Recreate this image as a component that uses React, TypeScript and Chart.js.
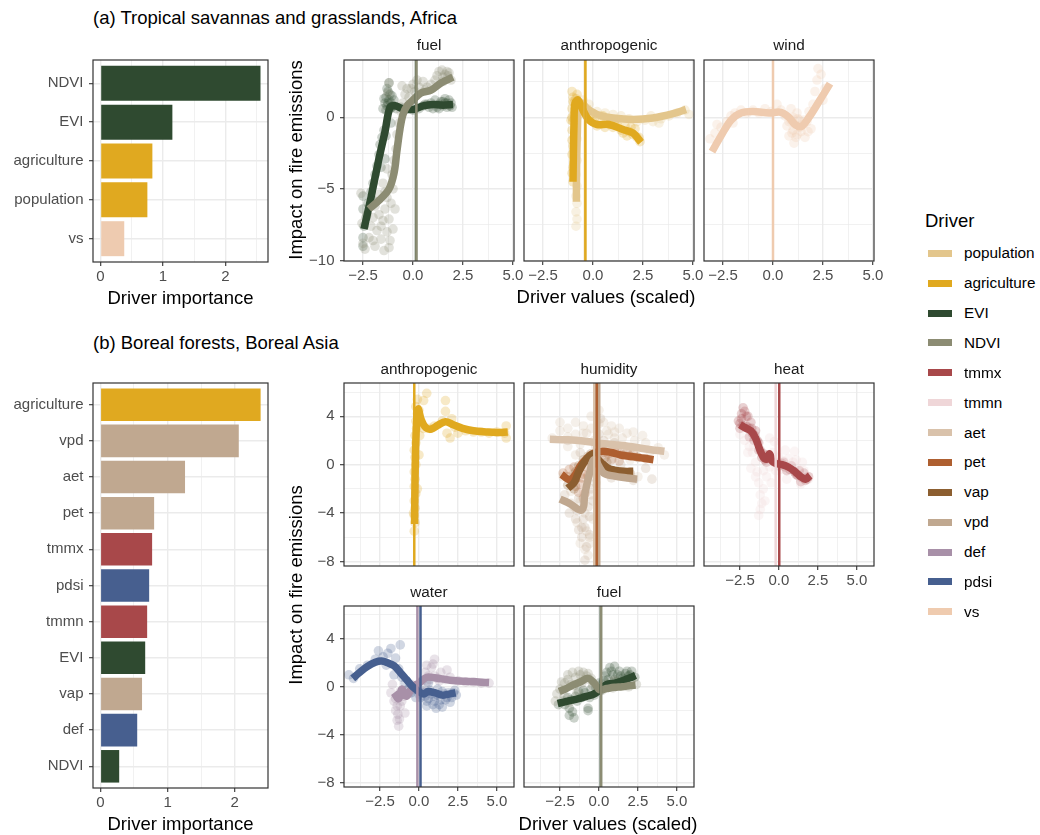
import React, { useEffect, useRef } from "react";
import { Chart, registerables } from "chart.js";

Chart.register(...registerables);

const FONT = '"Liberation Sans", Arial, Helvetica, sans-serif';

// ================= DATA =================
// Drivers in legend order
const driverNames = ["population", "agriculture", "EVI", "NDVI", "tmmx", "tmmn", "aet", "pet", "vap", "vpd", "def", "pdsi", "vs"];

// (a) Driver importance
const aImpLabels = ["NDVI", "EVI", "agriculture", "population", "vs"];
const aImpValues = [2.56, 1.15, 0.83, 0.75, 0.38];
const aImpGroups = ["fuel", "fuel", "anthropogenic", "anthropogenic", "wind"];

// (b) Driver importance
const bImpLabels = ["agriculture", "vpd", "aet", "pet", "tmmx", "pdsi", "tmmn", "EVI", "vap", "def", "NDVI"];
const bImpValues = [2.385, 2.06, 1.26, 0.8, 0.77, 0.726, 0.696, 0.667, 0.62, 0.548, 0.28];
const bImpGroups = ["anthropogenic", "humidity", "humidity", "humidity", "heat", "water", "heat", "fuel", "humidity", "water", "fuel"];

// tick values
const impMajor = [0, 1, 2];
const impMinor = [0.5, 1.5, 2.5];
const aFacetXMajor = [-2.5, 0, 2.5, 5];
const aFacetXMinor = [-1.25, 1.25, 3.75];
const aFacetYMajor = [-10, -5, 0];
const aFacetYMinor = [-7.5, -2.5, 2.5];
const bFacetXMajor = [-2.5, 0, 2.5, 5];
const bFacetXMinor = [-3.75, -1.25, 1.25, 3.75];
const bFacetYMajor = [-8, -4, 0, 4];
const bFacetYMinor = [-6, -2, 2, 6];

// axis limits
const aImpRange = [-0.12, 2.68];
const bImpRange = [-0.11, 2.495];
const aFacetXRange = [-3.45, 5.05];
const aFacetYRange = [-10.03, 4.0];
const bFacetXRange = [-4.81, 6.1];
const bFacetYRange = [-8.38, 6.75];

// ---- (a) fuel ----  [x, y, x, y, ...]
const aFuelEVIPts = [-2.5, -5.5, -2.5, -6.4, -2.5, -8.4, -2.5, -9.0, -2.45, -7.6, -2.35, -7.0, -2.25, -6.0, -2.1, -5.2, -2.0, -4.6, -1.9, -4.0, -1.8, -3.4, -1.7, -2.6, -1.65, -1.9, -1.55, -1.4, -1.45, -0.9, -1.4, -2.9, -1.35, -1.3, -1.5, 0.6, -1.4, 1.0, -1.35, 1.4, -1.3, 0.8, -1.25, 1.8, -1.2, 1.2, -1.15, 0.6, -1.1, 1.0, -1.05, 1.5, -1.0, 0.8, -0.95, 1.2, -1.2, 2.4, -0.85, 0.6, -1.1, -0.4, -0.6, 0.7, -0.3, 0.6, 0.0, 0.5, 0.3, 0.6, 0.5, 0.8, 0.7, 0.9, 0.9, 1.0, 1.1, 1.2, 1.2, 0.7, 1.3, 0.9, 1.4, 1.1, 1.5, 0.8, 1.6, 1.0, 1.7, 0.7, 1.8, 1.2, 1.9, 1.0, 1.95, 0.7, 1.0, 0.6, 1.6, 1.3, -1.6, -3.5, -2.0, -5.8, -1.45, 1.3, -1.35, 0.5, -1.25, 1.0, -1.15, 1.6, -1.05, 0.7, -1.3, 2.0, 1.3, 0.6, 1.5, 1.1, 1.7, 1.0, 1.85, 0.8, 0.6, 0.9, 0.8, 0.7];
const aFuelEVILine = [-2.45, -7.8, -2.1, -5.6, -1.75, -3.2, -1.4, -1.0, -1.15, 0.7, -0.9, 0.8, -0.5, 0.6, 0.0, 0.55, 0.5, 0.8, 1.0, 0.9, 1.5, 0.85, 2.0, 0.9];
const aFuelNDVIPts = [-2.6, -5.3, -2.55, -7.4, -2.5, -8.8, -2.4, -9.2, -2.3, -6.8, -2.2, -8.4, -2.0, -8.6, -2.0, -7.0, -1.9, -6.2, -1.8, -7.9, -1.7, -5.4, -1.6, -8.5, -1.5, -7.2, -1.45, -9.3, -1.4, -6.4, -1.3, -8.0, -1.3, -5.6, -1.2, -7.1, -1.15, -8.6, -1.1, -6.0, -1.0, -5.0, -1.05, -4.0, -1.3, -3.6, -1.5, -4.6, -0.95, -3.0, -0.85, -2.2, -0.8, -1.2, -0.7, -0.4, -0.6, 0.4, -0.5, 1.0, -0.55, 2.2, -0.4, 1.6, -0.3, 2.0, -0.2, 1.4, 0.0, 2.3, 0.1, 1.8, 0.3, 2.1, 0.5, 2.5, 0.7, 2.1, 0.9, 2.3, 1.1, 2.6, 1.3, 3.2, 1.45, 3.3, 1.6, 3.0, 1.75, 2.9, 1.9, 2.6, 1.8, 3.1, 1.5, 2.5, -1.2, 2.4, -1.25, 1.7, -2.1, -7.6, -1.9, -9.0, -1.7, -6.8, -1.6, -7.6, -1.2, -9.1, -1.0, -7.8, -0.9, -6.4, -1.4, -5.2, 1.2, 2.9, 1.5, 2.8, 1.7, 3.2, 0.2, 2.6, -0.1, 2.0, 0.6, 1.9];
const aFuelNDVILine = [-2.2, -6.4, -1.7, -5.8, -1.2, -5.0, -0.95, -3.9, -0.8, -2.3, -0.65, -0.8, -0.5, 0.2, -0.3, 0.8, 0.0, 1.2, 0.4, 1.7, 0.9, 1.9, 1.4, 2.4, 2.0, 2.8];

// ---- (a) anthropogenic ----
const aAnthPopPts = [-0.85, -7.6, -0.8, -7.1, -0.85, -6.6, -0.8, -6.0, -0.85, -5.5, -0.8, -4.8, -0.85, -4.0, -0.8, -3.0, -0.8, -1.5, -0.5, 1.2, -0.2, 0.9, 0.2, 0.4, 0.6, 0.3, 1.0, 0.2, 1.4, 0.1, 1.8, -0.1, 2.2, -0.3, 2.6, -0.2, 3.0, -0.3, 3.4, -0.1, 3.8, 0.1, 4.2, 0.3, 4.6, 0.5, 4.8, 0.2, 2.9, 0.1, 3.3, -0.4, 1.2, -0.2];
const aAnthPopLine = [-0.83, -5.9, -0.82, -3.5, -0.78, -1.0, -0.72, 0.6, -0.55, 1.0, -0.3, 0.6, 0.0, 0.35, 0.3, 0.15, 1.0, -0.05, 2.0, -0.15, 3.0, -0.05, 4.0, 0.25, 4.65, 0.55];
const aAnthAgriPts = [-1.05, 1.8, -1.0, 1.4, -0.95, 1.0, -1.05, 0.6, -0.95, 0.2, -1.0, -0.3, -1.05, -0.9, -0.95, -1.4, -1.0, -2.0, -1.05, -2.6, -0.95, -3.2, -1.05, -3.9, -1.0, -4.5, -0.9, -1.7, -0.9, 0.6, -0.85, 1.3, -1.1, -0.2, -0.8, 1.6, -0.6, 0.8, -0.4, 0.3, -0.2, 0.0, 0.0, -0.3, 0.2, -0.6, 0.4, -0.4, 0.6, -0.7, 0.8, -0.5, 1.0, -0.7, 1.2, -0.4, 1.4, -0.9, 1.6, -0.6, 1.8, -1.0, 2.0, -1.2, 2.2, -1.4, 2.35, -1.7, 0.5, 0.1, 1.5, -1.1, 1.9, -0.7, -0.3, 0.6, -1.0, 1.1, -1.05, -1.6, -1.0, -3.5, -0.95, -2.3, -1.05, 0.0, 0.1, 0.0, 1.1, -0.2, 1.7, -1.3, 2.3, -1.4, 2.1, -0.8];
const aAnthAgriLine = [-1.0, -4.5, -0.98, -2.5, -0.95, -0.5, -0.9, 1.0, -0.75, 1.2, -0.5, 0.5, -0.2, -0.2, 0.2, -0.5, 0.8, -0.5, 1.5, -0.85, 2.0, -1.1, 2.4, -1.75];

// ---- (a) wind ----
const aWindVsPts = [-3.15, -1.5, -2.9, -1.1, -2.6, -0.7, -2.3, -0.3, -2.1, 0.1, -1.9, 0.3, -1.6, 0.5, -1.3, 0.3, -1.0, 0.5, -0.7, 0.3, -0.4, 0.6, -0.1, 0.4, 0.2, 0.9, 0.4, 0.5, 0.6, 0.1, 0.7, -0.6, 0.8, -1.3, 0.9, -0.2, 1.0, -0.9, 1.05, -1.8, 1.1, -0.5, 1.2, -1.2, 1.3, -0.2, 1.4, -1.0, 1.5, -0.5, 1.6, -1.4, 1.7, -0.3, 1.8, 0.4, 1.9, -0.8, 2.0, 0.9, 2.1, 1.8, 2.2, 2.6, 2.25, 3.4, 2.4, 3.0, 2.5, 1.2, 2.6, 2.0, 0.9, 0.6, 1.2, 0.3, 0.8, -0.3, 1.0, 0.0, 1.15, -1.4, 1.35, -0.7, 1.55, -0.2, 1.25, -0.1, 0.95, -1.1, 1.75, -1.0, -2.8, -0.5, -2.0, -0.4];
const aWindVsLine = [-3.05, -2.4, -2.6, -1.3, -2.1, -0.2, -1.6, 0.3, -1.0, 0.4, -0.2, 0.3, 0.4, 0.35, 0.8, 0.0, 1.1, -0.5, 1.4, -0.65, 1.8, 0.0, 2.3, 1.1, 2.85, 2.35];

// ---- (b) anthropogenic ----
const bAnthAgriPts = [-0.3, -5.5, -0.25, -4.8, -0.3, -4.2, -0.25, -3.6, -0.3, -3.0, -0.2, -2.4, -0.3, -1.8, -0.25, -1.2, -0.3, -0.6, -0.2, 0.0, -0.25, 0.6, -0.3, 1.2, -0.2, 1.8, -0.25, 2.4, -0.15, 3.0, -0.2, 3.6, -0.1, 4.2, -0.2, 4.8, -0.1, 5.4, 0.0, 4.5, 0.1, 3.6, 0.05, 2.4, 0.3, 5.3, 0.3, 3.0, 0.7, 3.0, 1.0, 3.2, 1.5, 3.6, 1.7, 5.3, 1.7, 4.4, 1.8, 2.6, 2.0, 2.2, 2.1, 3.8, 2.3, 3.1, 2.5, 2.6, 3.0, 2.8, 3.5, 2.7, 4.0, 2.7, 4.5, 2.6, 5.0, 2.7, 5.6, 2.2, 5.6, 3.2, 5.5, 2.6, 0.5, 5.9, -0.1, -2.0, 0.0, 0.8, -0.35, -4.0];
const bAnthAgriLine = [-0.28, -4.9, -0.26, -2.0, -0.22, 1.0, -0.15, 3.5, -0.05, 4.6, 0.15, 3.7, 0.45, 3.05, 0.8, 2.95, 1.2, 3.25, 1.7, 3.55, 2.2, 3.3, 2.8, 3.0, 3.5, 2.8, 4.3, 2.7, 5.0, 2.65, 5.7, 2.7];

// ---- (b) humidity ----
const bHumAetPts = [-3.0, 2.2, -2.5, 2.8, -2.0, 3.0, -1.5, 3.5, -1.0, 3.2, -0.5, 4.0, 0.0, 4.5, 0.3, 3.5, 0.8, 3.2, 1.3, 3.0, 1.8, 2.6, 2.3, 2.0, 3.0, 1.8, 3.8, 1.4, 4.2, 0.8, -2.0, 1.5, -1.5, 0.8, -1.0, 0.2, -2.3, -1.0, -1.8, -2.2, -1.2, -3.0, -0.9, -4.0, -1.4, -4.8, -0.8, -5.5, -0.6, -6.0, -1.2, -6.5, -0.7, -7.5, -0.5, -2.5, 0.5, 1.5, 1.0, -0.8, 2.5, -1.0, 1.5, 0.8, -0.3, 2.0, 0.6, 2.5, -1.7, -0.8, 2.0, 0.4, -0.8, 2.6, 1.0, 2.2, -2.5, 3.5, -2.0, 2.3, -1.5, 2.5, -1.0, 2.6, -0.5, 3.0, 0.0, 3.4, 0.5, 2.8, 1.0, 2.7, 1.5, 2.2, 2.2, 2.7, 2.8, 2.4, 3.3, 1.1, -1.2, 1.7, 0.2, 1.2, -0.6, -6.5, -0.9, -7.0, -0.4, -4.5, -1.6, -3.5];
const bHumAetLine = [-3.15, 2.1, -2.0, 2.05, -1.0, 1.95, -0.1, 1.8, 1.0, 1.65, 2.0, 1.5, 3.0, 1.3, 4.2, 1.1];
const bHumPetPts = [-2.3, -0.7, -2.0, -1.0, -1.7, -1.4, -1.5, -1.8, -1.2, -1.6, -1.0, -0.8, -0.8, -0.2, -0.6, 0.3, -0.4, 0.6, -1.3, -2.3, -0.9, -2.4, 0.3, 1.0, 0.6, 0.9, 1.0, 1.1, 1.5, 0.8, 2.0, 0.7, 2.5, 0.6, 3.0, 0.5, 0.8, 0.4, 1.3, 0.3, -1.6, -0.2, -1.9, -0.4, -1.5, -1.2, -1.1, -1.1, -0.7, -0.9, 0.4, 0.6, 1.2, 1.4, 1.8, 1.1, 2.2, 0.9, -1.0, -2.8];
const bHumPetLine = [-2.4, -0.8, -1.9, -1.25, -1.5, -0.8, -1.2, -0.1, -0.8, 0.5, -0.4, 0.9, 0.2, 1.1, 0.8, 1.0, 1.4, 0.8, 2.5, 0.6, 3.5, 0.4];
const bHumVapPts = [-2.0, -1.7, -1.8, -1.2, -1.5, -0.6, -1.3, -0.1, -1.0, 0.4, -0.7, 0.7, -0.5, 0.9, 0.3, -0.1, 0.6, -0.4, 0.9, -0.6, 1.3, -0.6, 1.7, -0.7, 2.0, -0.7, -1.6, -2.0, 0.5, 0.2];
const bHumVapLine = [-2.0, -1.95, -1.6, -1.5, -1.3, -0.6, -1.0, 0.1, -0.7, 0.6, -0.4, 0.85, 0.2, 0.1, 0.6, -0.3, 1.0, -0.45, 1.6, -0.55, 2.2, -0.55];
const bHumVpdPts = [-2.2, -2.5, -1.8, -3.2, -1.4, -3.8, -1.0, -4.5, -0.9, -5.2, -1.1, -6.0, -0.8, -6.8, -0.7, -3.5, -0.5, -2.0, -0.4, -1.0, -0.3, 0.5, -0.2, 1.5, 0.0, 2.5, 0.1, 3.8, 0.3, 2.0, 0.6, 1.5, 1.0, 1.8, 1.5, 1.2, 2.0, 0.9, 2.5, 0.6, 3.0, -0.3, 3.4, -1.2, 2.2, -1.3, 1.5, -0.9, 0.8, -1.1, -1.6, -1.6, -1.3, -2.8, -0.6, -4.3, -1.2, 1.0, -2.0, 2.0, -1.9, -4.0, -1.5, -4.5, -1.1, -5.2, -0.4, -3.0, -0.2, -1.5, 0.3, 0.8, 0.9, 0.5, 1.4, 0.0, -0.6, -5.8, -1.3, -5.4, -0.9, -7.9];
const bHumVpdLine = [-2.5, -2.85, -1.9, -3.2, -1.1, -3.75, -0.9, -2.4, -0.6, -0.7, -0.3, 0.4, 0.3, -0.7, 1.0, -0.95, 1.8, -1.1, 2.45, -1.2];

// ---- (b) heat ----
const bHeatTmmxPts = [-2.6, 3.6, -2.5, 3.0, -2.4, 3.8, -2.2, 4.4, -2.0, 4.0, -2.1, 3.2, -1.8, 3.5, -1.7, 2.6, -1.5, 2.8, -1.6, 2.0, -1.3, 1.8, -1.2, 1.2, -1.1, 0.6, -0.9, 0.4, -0.7, 0.8, -0.5, 0.5, -0.3, 0.2, 0.2, 0.1, 0.4, -0.2, 0.7, -0.4, 1.0, -0.6, 1.2, -0.9, 1.5, -1.1, 1.7, -1.3, 1.9, -1.0, 1.6, -0.7, -2.3, 4.7, -1.9, 2.3, -2.5, 3.4, -2.3, 3.2, -2.1, 4.0, -1.9, 3.0, -1.75, 3.0, -1.55, 2.4, -1.4, 2.0, -1.3, 1.2, -1.0, 0.9, -0.8, 0.2, 0.0, -0.1, 0.3, 0.2, 0.5, -0.5, 0.8, -0.1, 1.1, -0.8, 1.3, -0.5, 1.4, -1.4, 1.8, -1.2, -2.4, 4.2];
const bHeatTmmxLine = [-2.5, 3.3, -2.1, 3.0, -1.8, 2.8, -1.5, 2.2, -1.25, 1.3, -1.0, 0.6, -0.8, 0.45, -0.6, 0.9, -0.45, 0.3, -0.2, 0.1, 0.2, 0.0, 0.6, -0.2, 1.0, -0.55, 1.4, -1.0, 1.7, -1.2, 2.0, -0.9];
const bHeatTmmnPts = [-2.5, 2.5, -2.2, 2.0, -1.9, 1.5, -1.7, 1.0, -1.5, 0.2, -1.4, -0.6, -1.3, -1.5, -1.2, -2.5, -1.1, -3.2, -1.3, -4.2, -1.0, -2.0, -0.8, -1.0, -0.6, -0.2, -0.4, 1.0, -0.2, -0.5, 0.0, 0.6, 0.3, 0.3, 0.6, 0.5, 0.9, 0.2, 1.2, -0.3, 1.4, -1.6, 1.6, -0.5, 1.9, -1.2, 0.5, -1.2, -0.6, 2.2, -1.8, -0.3, -0.3, 1.9, 1.0, 1.1, -2.0, 1.0, -1.6, 1.5, -1.5, -1.0, -1.0, -0.5, -0.5, -1.5, 0.2, -0.4, 0.7, -0.3, 1.1, 0.4, 1.5, 0.2, -0.9, -3.0, -1.2, -3.7, -0.3, 0.3, 0.4, 1.2];
const bHeatTmmnLine: number[] = [];

// ---- (b) water ----
const bWaterDefPts = [-1.8, -0.5, -1.6, -1.2, -1.5, -2.0, -1.4, -2.8, -1.3, -3.3, -1.2, -1.6, -1.0, -0.8, -0.9, -2.2, -0.8, -0.3, -1.7, 0.2, -0.5, 0.2, 0.2, 0.5, 0.4, 1.2, 0.6, 0.9, 0.8, 1.6, 1.0, 2.3, 1.2, 0.7, 1.4, 1.2, 1.7, 0.6, 2.0, 0.8, 2.5, 0.5, 3.0, 0.4, 3.5, 0.4, 4.0, 0.3, 4.5, 0.3, 0.3, -0.4, 1.8, 1.4, -1.5, -1.0, -1.4, -1.6, -1.35, -2.3, -1.25, -2.7, -1.1, -1.2, -1.2, -0.4, -0.6, -0.5, 0.5, 0.4, 0.7, 0.6, 1.0, 0.9, 1.3, 0.5, 0.9, 1.9, 0.5, 1.8];
const bWaterDefLine = [-1.6, -0.5, -1.3, -1.0, -1.1, -0.2, -0.8, -0.8, -0.4, 0.0, 0.0, 0.3, 0.5, 0.8, 1.0, 0.75, 2.0, 0.55, 3.0, 0.45, 4.5, 0.35];
const bWaterPdsiPts = [-4.5, 1.0, -4.2, 0.7, -3.8, 1.5, -3.3, 1.8, -2.8, 2.3, -2.6, 3.0, -2.3, 2.5, -2.0, 2.8, -1.8, 3.2, -1.5, 2.4, -1.3, 1.5, -1.6, 1.0, -1.1, 0.8, -0.9, 0.3, -0.7, -0.2, -0.5, -0.5, -0.3, -0.2, 0.1, -0.9, 0.3, -0.5, 0.5, -1.2, 0.7, -0.3, 0.9, -1.5, 1.0, -0.8, 1.2, -0.2, 1.4, -1.1, 1.6, -0.6, 1.8, -0.9, 2.0, -1.3, 2.2, -0.5, 2.4, -0.7, 1.1, -1.8, 0.6, 0.3, -1.2, 3.5, -2.1, 1.8, 0.2, -0.3, 0.4, -0.8, 0.6, -1.0, 0.8, -0.6, 1.0, -1.2, 1.2, -0.7, 1.3, -1.5, 1.5, -0.4, 1.7, -1.1, 1.9, -0.5, 2.1, -0.9, 2.3, -0.3, 0.0, -0.6, -0.2, -0.9, 0.5, -1.6, 1.5, -1.7];
const bWaterPdsiLine = [-4.25, 0.7, -3.8, 1.2, -3.3, 1.7, -2.8, 2.05, -2.4, 2.15, -2.0, 2.0, -1.6, 1.75, -1.2, 1.2, -0.8, 0.6, -0.4, 0.0, 0.0, -0.4, 0.3, -0.6, 0.6, -0.4, 1.0, -0.5, 1.5, -0.7, 2.0, -0.6, 2.35, -0.5];

// ---- (b) fuel ----
const bFuelEVIPts = [-2.6, -1.5, -2.3, -1.2, -2.0, -0.9, -1.9, -1.8, -1.7, -2.1, -1.5, -0.8, -1.3, -0.4, -1.1, -0.9, -0.9, -0.5, -0.7, -1.8, -0.5, -0.2, -0.3, -0.7, 0.1, -0.3, 0.3, 0.5, 0.5, 1.2, 0.7, 1.6, 0.9, 1.0, 1.1, 0.4, 1.3, 1.3, 1.5, 0.7, 1.7, 1.1, 1.9, 0.9, 2.1, 1.3, 2.3, 0.8, 0.6, 0.2, -1.6, -2.6, 1.0, 1.7, 0.2, 0.2, 0.4, 0.9, 0.6, 0.6, 0.8, 1.3, 1.0, 0.6, 1.2, 1.0, 1.4, 0.9, 1.6, 0.6, 1.8, 1.3, 2.0, 1.0, -2.2, -1.5, -1.8, -1.1, -1.4, -1.2, -1.0, -0.3, -0.6, -0.9, -0.2, -0.1, 0.0, 0.3, -1.9, -2.4, -0.7, -2.0];
const bFuelEVILine = [-2.65, -1.4, -2.0, -1.2, -1.3, -1.0, -0.8, -0.8, -0.3, -0.6, 0.1, -0.2, 0.5, 0.2, 1.0, 0.3, 1.5, 0.5, 2.0, 0.75, 2.35, 0.95];
const bFuelNDVIPts = [-2.7, -0.6, -2.5, -0.2, -2.2, 0.3, -2.0, 0.6, -1.8, 0.2, -1.5, 0.8, -1.2, 1.0, -1.0, 1.2, -0.8, 0.9, -0.6, 0.6, -0.4, 0.1, -1.9, -1.3, -1.4, -0.5, 0.2, -0.3, 0.5, 0.2, 0.9, -0.1, 1.3, 0.3, 1.7, 0.2, 2.1, 0.6, 2.4, 0.2, -2.8, -1.2, -2.4, 0.4, -2.0, 1.0, -1.7, 1.2, -1.3, 1.3, -1.0, 0.6, -0.7, 1.1, -0.5, 0.7, -2.2, -0.8, -1.6, 0.1, -1.1, 0.3, 1.0, 0.5, 1.9, 0.0];
const bFuelNDVILine = [-2.55, -0.4, -2.1, -0.15, -1.65, 0.15, -1.2, 0.4, -0.7, 0.7, -0.3, 0.3, 0.05, -0.25, 0.5, -0.15, 1.0, -0.05, 1.5, 0.0, 2.0, 0.1, 2.35, 0.15];

// vertical reference lines (driver mean), in drawing order
const aFuelVlines: [string, number][] = [["EVI", 0.15], ["NDVI", 0.17]];
const aAnthVlines: [string, number][] = [["population", -0.4], ["agriculture", -0.38]];
const aWindVlines: [string, number][] = [["vs", 0.0]];
const bAnthVlines: [string, number][] = [["agriculture", -0.3]];
const bHumVlines: [string, number][] = [["vap", -0.14], ["aet", -0.3], ["vpd", 0.02], ["pet", -0.14]];
const bHeatVlines: [string, number][] = [["tmmn", -0.21], ["tmmx", 0.02]];
const bWaterVlines: [string, number][] = [["def", -0.1], ["pdsi", 0.1]];
const bFuelVlines: [string, number][] = [["EVI", 0.12], ["NDVI", 0.14]];

// ================= STYLE =================
const driverColorList = ["#E3C68C", "#E0A91F", "#2F4A30", "#8C8C73", "#A8484A", "#EFD6D8", "#D9C2AB", "#AE5F30", "#8C5E30", "#C0A890", "#A890A8", "#465F8F", "#EFCBAF"];
const driverColor: Record<string, string> = {};
driverNames.forEach((d, i) => (driverColor[d] = driverColorList[i]));
const groupColor: Record<string, string> = {
  anthropogenic: "#E0A920",
  fuel: "#2F4A30",
  humidity: "#C0A890",
  heat: "#A8484A",
  water: "#475F8F",
  wind: "#EECBB0",
};

const PAD_T = 10;
const PAD_R = 16;
const AX_W = 45;
const AX_H = 30;

// ================= HELPERS =================
const xy = (flat: number[]) => {
  const out: { x: number; y: number }[] = [];
  for (let i = 0; i + 1 < flat.length; i += 2) out.push({ x: flat[i], y: flat[i + 1] });
  return out;
};
const rgba = (hex: string, a: number) => {
  const n = parseInt(hex.slice(1), 16);
  return `rgba(${(n >> 16) & 255},${(n >> 8) & 255},${n & 255},${a})`;
};
const near = (v: any, arr: number[]) => typeof v === "number" && arr.some((a) => Math.abs(a - v) < 1e-6);
const minus = (v: number) => (v < 0 ? "\u2212" : "");

function axis(o: {
  axis: "x" | "y";
  min: number;
  max: number;
  major: number[];
  minor: number[];
  show: boolean;
  size: number;
  fmt: (v: number) => string;
  reverse?: boolean;
}) {
  const all = [...o.major, ...o.minor].filter((v) => v >= o.min && v <= o.max).sort((a, b) => a - b);
  return {
    type: "linear",
    min: o.min,
    max: o.max,
    reverse: !!o.reverse,
    offset: false,
    afterBuildTicks: (s: any) => {
      s.ticks = all.map((v) => ({ value: v }));
    },
    afterFit: (s: any) => {
      if (o.axis === "x") s.height = o.size;
      else s.width = o.size;
      s.paddingLeft = 0;
      s.paddingRight = 0;
      s.paddingTop = 0;
      s.paddingBottom = 0;
    },
    ticks: {
      display: o.show,
      autoSkip: false,
      maxRotation: 0,
      minRotation: 0,
      padding: o.axis === "x" ? 2 : 5.5,
      color: "#4D4D4D",
      font: { family: FONT, size: 15 },
      callback: (v: any) => (near(v, o.major) ? o.fmt(v) : ""),
    },
    grid: {
      offset: false,
      color: "#EBEBEB",
      lineWidth: (c: any) => (near(c.tick?.value, o.major) ? 1.4 : 0.7),
      drawTicks: o.show,
      tickLength: 4,
      tickWidth: 1.1,
      tickColor: (c: any) => (near(c.tick?.value, o.major) ? "#333333" : "rgba(0,0,0,0)"),
    },
    border: { display: false },
  };
}

const boxPlugin = {
  id: "panelBox",
  afterDraw(chart: any) {
    const { ctx, chartArea: a } = chart;
    ctx.save();
    ctx.strokeStyle = "#333333";
    ctx.lineWidth = 1.2;
    ctx.strokeRect(a.left, a.top, a.right - a.left, a.bottom - a.top);
    ctx.restore();
  },
};

const baseOptions = (scales: any, extra: any = {}) => ({
  animation: false,
  responsive: false,
  maintainAspectRatio: false,
  events: [],
  layout: { padding: { top: PAD_T, right: PAD_R, left: 0, bottom: 0 } },
  plugins: { legend: { display: false }, tooltip: { enabled: false } },
  scales,
  ...extra,
});

type Series = { driver: string; pts: number[]; line: number[] };
type FacetSpec = { series: Series[]; vlines: [string, number][] };

function FacetChart(props: {
  spec: FacetSpec;
  box: number[];
  xr: number[];
  yr: number[];
  xMajor: number[];
  xMinor: number[];
  yMajor: number[];
  yMinor: number[];
  showX: boolean;
  showY: boolean;
}) {
  const ref = useRef<HTMLCanvasElement>(null);
  const [L, T, R, B] = props.box;
  const w = R - L + AX_W + PAD_R;
  const h = B - T + PAD_T + AX_H;
  useEffect(() => {
    const { spec, xr, yr } = props;
    const n = spec.series.length;
    const datasets: any[] = [];
    spec.vlines.forEach(([d, v], i) => {
      datasets.push({
        data: [
          { x: v, y: yr[0] - 5 },
          { x: v, y: yr[1] + 5 },
        ],
        showLine: true,
        borderColor: driverColor[d],
        borderWidth: 2.5,
        pointRadius: 0,
        order: spec.vlines.length - 1 - i,
        clip: 0,
      });
    });
    spec.series.forEach((s, i) => {
      const col = driverColor[s.driver];
      if (s.line.length)
        datasets.push({
          data: xy(s.line),
          showLine: true,
          borderColor: col,
          borderWidth: 7.5,
          pointRadius: 0,
          tension: 0.35,
          borderJoinStyle: "round",
          borderCapStyle: "butt",
          order: 100 + (n - 1 - i),
          clip: 0,
        });
      datasets.push({
        data: xy(s.pts),
        showLine: false,
        pointRadius: 4.8,
        pointBorderWidth: 0,
        pointBackgroundColor: rgba(col, 0.25),
        pointBorderColor: "rgba(0,0,0,0)",
        order: 200 + (n - 1 - i),
        clip: 0,
      });
    });
    const chart = new Chart(ref.current as HTMLCanvasElement, {
      type: "scatter",
      data: { datasets },
      options: baseOptions({
        x: axis({
          axis: "x",
          min: xr[0],
          max: xr[1],
          major: props.xMajor,
          minor: props.xMinor,
          show: props.showX,
          size: AX_H,
          fmt: (v) => minus(v) + Math.abs(v).toFixed(1),
        }),
        y: axis({
          axis: "y",
          min: yr[0],
          max: yr[1],
          major: props.yMajor,
          minor: props.yMinor,
          show: props.showY,
          size: AX_W,
          fmt: (v) => minus(v) + String(Math.abs(v)),
        }),
      }) as any,
      plugins: [boxPlugin],
    } as any);
    return () => chart.destroy();
  }, []);
  return (
    <canvas
      ref={ref}
      width={w}
      height={h}
      style={{ position: "absolute", left: L - AX_W, top: T - PAD_T, width: w, height: h }}
    />
  );
}

function ImportanceChart(props: { labels: string[]; values: number[]; groups: string[]; box: number[]; xr: number[] }) {
  const ref = useRef<HTMLCanvasElement>(null);
  const [L, T, R, B] = props.box;
  const w = R + PAD_R;
  const h = B - T + PAD_T + AX_H;
  useEffect(() => {
    const { labels, values, groups, xr } = props;
    const n = labels.length;
    const chart = new Chart(ref.current as HTMLCanvasElement, {
      type: "bar",
      data: {
        datasets: [
          {
            data: values.map((v, i) => ({ x: v, y: i + 1 })),
            backgroundColor: groups.map((g) => groupColor[g]),
            borderWidth: 0,
            barPercentage: 0.9,
            categoryPercentage: 1.0,
          },
        ],
      },
      options: baseOptions(
        {
          x: axis({
            axis: "x",
            min: xr[0],
            max: xr[1],
            major: impMajor,
            minor: impMinor,
            show: true,
            size: AX_H,
            fmt: (v) => String(v),
          }),
          y: axis({
            axis: "y",
            min: 0.4,
            max: n + 0.6,
            major: labels.map((_, i) => i + 1),
            minor: [],
            show: true,
            size: L,
            reverse: true,
            fmt: (v) => labels[Math.round(v) - 1],
          }),
        },
        { indexAxis: "y" }
      ) as any,
      plugins: [boxPlugin],
    } as any);
    return () => chart.destroy();
  }, []);
  return <canvas ref={ref} width={w} height={h} style={{ position: "absolute", left: 0, top: T - PAD_T, width: w, height: h }} />;
}

function Txt(props: { x: number; y: number; size: number; color?: string; start?: boolean; rotate?: boolean; children: any }) {
  const tr = `translate(${props.start ? "0" : "-50%"}, -50%)${props.rotate ? " rotate(-90deg)" : ""}`;
  return (
    <div
      style={{
        position: "absolute",
        left: props.x,
        top: props.y,
        transform: tr,
        fontSize: props.size,
        color: props.color || "#000000",
        whiteSpace: "nowrap",
        lineHeight: 1,
        fontFamily: FONT,
      }}
    >
      {props.children}
    </div>
  );
}

// facet specs built from the named arrays
const aFacets: { title: string; spec: FacetSpec }[] = [
  { title: "fuel", spec: { series: [{ driver: "EVI", pts: aFuelEVIPts, line: aFuelEVILine }, { driver: "NDVI", pts: aFuelNDVIPts, line: aFuelNDVILine }], vlines: aFuelVlines } },
  { title: "anthropogenic", spec: { series: [{ driver: "population", pts: aAnthPopPts, line: aAnthPopLine }, { driver: "agriculture", pts: aAnthAgriPts, line: aAnthAgriLine }], vlines: aAnthVlines } },
  { title: "wind", spec: { series: [{ driver: "vs", pts: aWindVsPts, line: aWindVsLine }], vlines: aWindVlines } },
];
const bFacetsTop: { title: string; spec: FacetSpec }[] = [
  { title: "anthropogenic", spec: { series: [{ driver: "agriculture", pts: bAnthAgriPts, line: bAnthAgriLine }], vlines: bAnthVlines } },
  {
    title: "humidity",
    spec: {
      series: [
        { driver: "aet", pts: bHumAetPts, line: bHumAetLine },
        { driver: "pet", pts: bHumPetPts, line: bHumPetLine },
        { driver: "vap", pts: bHumVapPts, line: bHumVapLine },
        { driver: "vpd", pts: bHumVpdPts, line: bHumVpdLine },
      ],
      vlines: bHumVlines,
    },
  },
  { title: "heat", spec: { series: [{ driver: "tmmx", pts: bHeatTmmxPts, line: bHeatTmmxLine }, { driver: "tmmn", pts: bHeatTmmnPts, line: bHeatTmmnLine }], vlines: bHeatVlines } },
];
const bFacetsBottom: { title: string; spec: FacetSpec }[] = [
  { title: "water", spec: { series: [{ driver: "def", pts: bWaterDefPts, line: bWaterDefLine }, { driver: "pdsi", pts: bWaterPdsiPts, line: bWaterPdsiLine }], vlines: bWaterVlines } },
  { title: "fuel", spec: { series: [{ driver: "EVI", pts: bFuelEVIPts, line: bFuelEVILine }, { driver: "NDVI", pts: bFuelNDVIPts, line: bFuelNDVILine }], vlines: bFuelVlines } },
];

const COLS = [
  [344, 514],
  [524, 694],
  [704, 874],
];

export default function App() {
  return (
    <div style={{ position: "absolute", left: 0, top: 0, width: 1040, height: 835, background: "#ffffff", overflow: "hidden", fontFamily: FONT }}>
      {/* (a) */}
      <ImportanceChart labels={aImpLabels} values={aImpValues} groups={aImpGroups} box={[93, 60, 268, 262]} xr={aImpRange} />
      {aFacets.map((f, i) => (
        <FacetChart
          key={"a" + i}
          spec={f.spec}
          box={[COLS[i][0], 60, COLS[i][1], 261]}
          xr={aFacetXRange}
          yr={aFacetYRange}
          xMajor={aFacetXMajor}
          xMinor={aFacetXMinor}
          yMajor={aFacetYMajor}
          yMinor={aFacetYMinor}
          showX={true}
          showY={i === 0}
        />
      ))}
      {/* (b) */}
      <ImportanceChart labels={bImpLabels} values={bImpValues} groups={bImpGroups} box={[93, 383, 268, 788]} xr={bImpRange} />
      {bFacetsTop.map((f, i) => (
        <FacetChart
          key={"bt" + i}
          spec={f.spec}
          box={[COLS[i][0], 383, COLS[i][1], 566]}
          xr={bFacetXRange}
          yr={bFacetYRange}
          xMajor={bFacetXMajor}
          xMinor={bFacetXMinor}
          yMajor={bFacetYMajor}
          yMinor={bFacetYMinor}
          showX={i === 2}
          showY={i === 0}
        />
      ))}
      {bFacetsBottom.map((f, i) => (
        <FacetChart
          key={"bb" + i}
          spec={f.spec}
          box={[COLS[i][0], 606, COLS[i][1], 787]}
          xr={bFacetXRange}
          yr={bFacetYRange}
          xMajor={bFacetXMajor}
          xMinor={bFacetXMinor}
          yMajor={bFacetYMajor}
          yMinor={bFacetYMinor}
          showX={true}
          showY={i === 0}
        />
      ))}

      {/* titles */}
      <Txt x={93} y={17.5} size={18.5} start>
        (a) Tropical savannas and grasslands, Africa
      </Txt>
      <Txt x={93} y={342.5} size={18.5} start>
        (b) Boreal forests, Boreal Asia
      </Txt>

      {/* strip labels */}
      {aFacets.map((f, i) => (
        <Txt key={"sa" + i} x={(COLS[i][0] + COLS[i][1]) / 2} y={45} size={15.3} color="#1A1A1A">
          {f.title}
        </Txt>
      ))}
      {bFacetsTop.map((f, i) => (
        <Txt key={"sbt" + i} x={(COLS[i][0] + COLS[i][1]) / 2} y={368.5} size={15.3} color="#1A1A1A">
          {f.title}
        </Txt>
      ))}
      {bFacetsBottom.map((f, i) => (
        <Txt key={"sbb" + i} x={(COLS[i][0] + COLS[i][1]) / 2} y={592} size={15.3} color="#1A1A1A">
          {f.title}
        </Txt>
      ))}

      {/* axis titles */}
      <Txt x={180.5} y={297.5} size={18.5}>Driver importance</Txt>
      <Txt x={180.5} y={823.5} size={18.5}>Driver importance</Txt>
      <Txt x={606} y={297} size={18.5}>Driver values (scaled)</Txt>
      <Txt x={608} y={824} size={18.5}>Driver values (scaled)</Txt>
      <Txt x={296} y={160} size={18.5} rotate>Impact on fire emissions</Txt>
      <Txt x={296} y={585} size={18.5} rotate>Impact on fire emissions</Txt>

      {/* legend */}
      <Txt x={925} y={221} size={18.5} start>Driver</Txt>
      {driverNames.map((d, i) => (
        <React.Fragment key={"lg" + d}>
          <div style={{ position: "absolute", left: 928, top: 253.3 + i * 29.87 - 3.5, width: 24, height: 7, background: driverColor[d] }} />
          <Txt x={964} y={253.3 + i * 29.87} size={15.3} start>
            {d}
          </Txt>
        </React.Fragment>
      ))}
    </div>
  );
}
